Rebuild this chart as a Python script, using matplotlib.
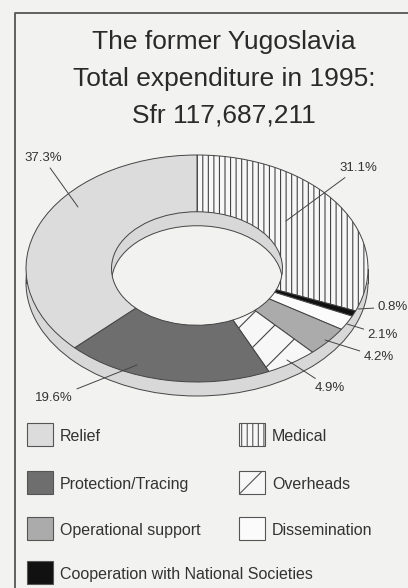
import numpy as np
import matplotlib
matplotlib.use('Agg')
import matplotlib.pyplot as plt
from matplotlib.patches import Ellipse, Rectangle

# expenditure shares, clockwise from 12 o'clock
categories = ['Medical', 'Cooperation with National Societies', 'Dissemination',
              'Operational support', 'Overheads', 'Protection/Tracing', 'Relief']
shares = [31.1, 0.8, 2.1, 4.2, 4.9, 19.6, 37.3]
pct_labels = ['31.1%', '0.8%', '2.1%', '4.2%', '4.9%', '19.6%', '37.3%']

title_lines = ['The former Yugoslavia', 'Total expenditure in 1995:', 'Sfr 117,687,211']

# legend order (row by row)
legend_order = ['Relief', 'Medical', 'Protection/Tracing', 'Overheads',
                'Operational support', 'Dissemination', 'Cooperation with National Societies']

fills = {'Medical': '#f7f7f7', 'Cooperation with National Societies': '#111111',
         'Dissemination': '#fbfbfb', 'Operational support': '#ababab',
         'Overheads': '#f7f7f7', 'Protection/Tracing': '#6e6e6e', 'Relief': '#dcdcdc'}
hatches = {'Medical': '|||', 'Overheads': '/'}

bg = '#f2f2f1'
edge = '#444444'
wall = '#d8d8d8'
font = 'Liberation Sans'
plt.rcParams['hatch.linewidth'] = 0.8

W, H = 408, 588
fig = plt.figure(figsize=(W / 100, H / 100), dpi=100, facecolor=bg)

# pie geometry in image pixels
cx, cy, rx, ry, depth = 197, 268.5, 171, 113.5, 14
d = depth / ry

ax = fig.add_axes([0, 0, 1, 1])
wedges, _ = ax.pie(shares, colors=[fills[c] for c in categories],
                   hatch=[hatches.get(c, '') for c in categories],
                   startangle=90, counterclock=False, radius=1,
                   wedgeprops=dict(width=0.5, edgecolor=edge, linewidth=0.7))
ax.set_aspect('auto')
ax.set_xlim((0 - cx) / rx, (W - cx) / rx)
ax.set_ylim((cy - H) / ry, cy / ry)
ax.axis('off')

# side wall of the ring
ax.add_patch(Ellipse((0, -d), 2, 2, facecolor=wall, edgecolor=edge, lw=0.7, zorder=0.5))
ax.add_patch(Rectangle((-1, -d), 2, d, facecolor=wall, edgecolor='none', zorder=0.5))
ax.plot([-1, -1], [0, -d], color=edge, lw=0.7, zorder=0.6)
ax.plot([1, 1], [0, -d], color=edge, lw=0.7, zorder=0.6)
# hole: inner wall at the back, background below it
hole = Ellipse((0, -d), 1, 1, facecolor=bg, edgecolor=edge, lw=0.7, zorder=0.8)
ax.add_patch(hole)
clip = Ellipse((0, 0), 1, 1, transform=ax.transData)
hole.set_clip_path(clip)

# overlay in pixel coordinates for frame, title, labels, legend
ov = fig.add_axes([0, 0, 1, 1], facecolor='none')
ov.set_xlim(0, W)
ov.set_ylim(H, 0)
ov.axis('off')

ov.plot([14.5, 14.5, W + 5], [H + 5, 12.5, 12.5], color='#555555', lw=1.3)

for i, line in enumerate(title_lines):
    ov.text(224, 49 + 37 * i, line, ha='center', va='baseline', fontsize=19,
            family=font, color='#2a2a2a')

label_text = {'37.3%': (43, 158), '31.1%': (358, 168), '0.8%': (393, 307),
              '2.1%': (383, 335), '4.2%': (379, 357), '4.9%': (330, 388),
              '19.6%': (54, 398)}
label_tip = {'37.3%': (78, 207), '31.1%': (286, 221), '0.8%': (358, 309),
             '2.1%': (347, 324), '4.2%': (325, 340), '4.9%': (287, 360),
             '19.6%': (137, 365)}
for lab in pct_labels:
    ov.annotate(lab, xy=label_tip[lab], xytext=label_text[lab], ha='center', va='center',
                fontsize=9.5, family=font, color='#333333',
                arrowprops=dict(arrowstyle='-', color='#444444', lw=0.7,
                                shrinkA=1, shrinkB=0))

# legend
row_y = [434, 482, 528, 572]
col_x = [27, 239]
for k, name in enumerate(legend_order):
    r, c = divmod(k, 2)
    x0, y0 = col_x[c], row_y[r]
    ov.add_patch(Rectangle((x0, y0 - 11.5), 26, 23, facecolor=fills[name],
                           edgecolor='#555555', lw=0.8, hatch=hatches.get(name, '')))
    ov.text(x0 + 33, y0 + 7, name, ha='left', va='baseline', fontsize=11.5,
            family=font, color='#333333')

fig.savefig('out.png', dpi=100, facecolor=bg)
